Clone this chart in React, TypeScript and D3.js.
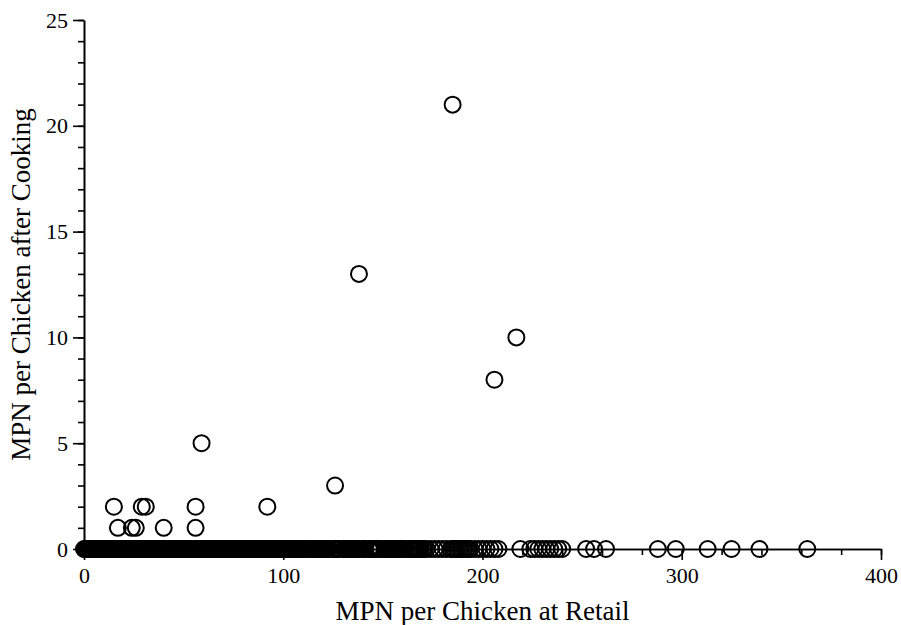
import React, { useEffect, useRef } from "react";
import * as d3 from "d3";

// samples with 0 MPN after cooking (x = MPN at retail)
const retailZero = [
  0, 0.5, 1, 1.5, 2, 2.5, 3, 3.5, 4, 4.5, 5, 5.5, 6, 6.5, 7, 7.5, 8, 8.5, 9, 9.5,
  10, 10.5, 11, 11.5, 12, 12.5, 13, 13.5, 14, 14.5, 15, 15.5, 16, 16.5, 17, 17.5,
  18, 18.5, 19, 19.5, 20, 20.5, 21, 21.5, 22, 22.5, 23, 23.5, 24, 24.5, 25, 25.5,
  26, 26.5, 27, 27.5, 28, 28.5, 29, 29.5, 30, 30.5, 31, 31.5, 32, 32.5, 33, 33.5,
  34, 34.5, 35, 35.5, 36, 36.5, 37, 37.5, 38, 38.5, 39, 39.5, 40, 40.5, 41, 41.5,
  42, 42.5, 43, 43.5, 44, 44.5, 45, 45.5, 46, 46.5, 47, 47.5, 48, 48.5, 49, 49.5,
  50, 50.5, 51, 51.5, 52, 52.5, 53, 53.5, 54, 54.5, 55, 55.5, 56, 56.5, 57, 57.5,
  58, 58.5, 59, 59.5, 60, 60.5, 61, 61.5, 62, 62.5, 63, 63.5, 64, 64.5, 65, 65.5,
  66, 66.5, 67, 67.5, 68, 68.5, 69, 69.5, 70, 70.5, 71, 71.5, 72, 72.5, 73, 73.5,
  74, 74.5, 75, 75.5, 76, 76.5, 77, 77.5, 78, 78.5, 79, 79.5, 80, 80.5, 81, 81.5,
  82, 82.5, 83, 83.5, 84, 84.5, 85, 85.5, 86, 86.5, 87, 87.5, 88, 88.5, 89, 89.5,
  90, 90.5, 91, 91.5, 92, 92.5, 93, 93.5, 94, 94.5, 95, 95.5, 96, 96.5, 97, 97.5,
  98, 98.5, 99, 99.5, 100, 100.5, 101, 101.5, 102, 102.5, 103, 103.5, 104, 104.5,
  105, 105.5, 106, 106.5, 107, 107.5, 108, 108.5, 109, 109.5, 110, 110.5, 111,
  113, 113.5, 114, 114.5, 115, 115.5, 116, 116.5, 117, 117.5, 118, 118.5, 119,
  119.5, 120, 120.5, 121, 121.5, 122, 122.5, 123, 125, 125.5, 126, 126.5, 127,
  127.5, 128, 130, 130.5, 131, 131.5, 132, 132.5, 133, 133.5, 134, 134.5, 135,
  135.5, 136, 136.5, 137, 137.5, 138, 140, 140.5, 141, 143, 143.5, 144, 144.5,
  145, 145.5, 146, 146.5, 147, 147.5, 148, 148.5, 149, 151, 151.5, 152, 152.5,
  153, 153.5, 154, 154.5, 155, 155.5, 156, 156.5, 157, 157.5, 158, 158.5, 159,
  159.5, 160, 160.5, 161, 163, 163.5, 164, 164.5, 165, 165.5, 166, 166.5, 167,
  167.5, 168, 168.5, 169, 170, 171, 172, 174, 176, 178, 180, 182, 184, 185, 186,
  187, 188, 189, 190, 191, 192, 193, 194, 196, 198, 200, 202, 204, 206, 208, 219,
  224, 226, 228, 230, 232, 234, 236, 238, 240, 252, 256, 262, 288, 297, 313, 325,
  339, 363,
];

// samples with detectable MPN after cooking
const retailPos = [15, 17, 24, 26, 29, 31, 40, 56, 56, 59, 92, 126, 138, 185, 206, 217];
const cookedPos = [2, 1, 1, 1, 2, 2, 1, 2, 1, 5, 2, 3, 13, 21, 8, 10];

const xTicks = [0, 100, 200, 300, 400];
const yTicks = [0, 5, 10, 15, 20, 25];

const xTitle = "MPN per Chicken at Retail";
const yTitle = "MPN per Chicken after Cooking";

export default function App() {
  const ref = useRef<SVGSVGElement>(null);

  useEffect(() => {
    const svg = d3.select(ref.current);
    svg.selectAll("*").remove();

    const font = "Liberation Serif, Times New Roman, DejaVu Serif, serif";
    const x = d3.scaleLinear().domain([0, 400]).range([84, 881]);
    const y = d3.scaleLinear().domain([0, 25]).range([549, 20]);

    const points = [
      ...retailZero.map((r) => ({ r, c: 0 })),
      ...retailPos.map((r, i) => ({ r, c: cookedPos[i] })),
    ];

    svg.append("g")
      .selectAll("circle")
      .data(points)
      .join("circle")
      .attr("cx", (d) => x(d.r))
      .attr("cy", (d) => y(d.c))
      .attr("r", 8)
      .attr("fill", "none")
      .attr("stroke", "#000")
      .attr("stroke-width", 2);

    // minor ticks
    svg.append("g")
      .attr("transform", `translate(0,${y(0)})`)
      .call(d3.axisBottom(x).tickValues(d3.range(0, 401, 20)).tickSize(6).tickSizeOuter(0).tickFormat(() => ""));
    svg.append("g")
      .attr("transform", `translate(${x(0)},0)`)
      .call(d3.axisLeft(y).tickValues(d3.range(0, 26, 1)).tickSize(6).tickSizeOuter(0).tickFormat(() => ""));

    // major ticks + labels
    const xa = svg.append("g")
      .attr("transform", `translate(0,${y(0)})`)
      .call(d3.axisBottom(x).tickValues(xTicks).tickSize(11).tickSizeOuter(0).tickPadding(7));
    const ya = svg.append("g")
      .attr("transform", `translate(${x(0)},0)`)
      .call(d3.axisLeft(y).tickValues(yTicks).tickSize(11).tickSizeOuter(0).tickPadding(5));

    svg.selectAll(".domain, .tick line")
      .attr("stroke", "#000")
      .attr("stroke-width", 1.6);
    [xa, ya].forEach((a) => {
      a.attr("font-family", font).attr("font-size", 22);
      a.selectAll("text").attr("fill", "#000");
    });

    svg.append("text")
      .attr("x", (x(0) + x(400)) / 2)
      .attr("y", 620)
      .attr("text-anchor", "middle")
      .attr("font-family", font)
      .attr("font-size", 27)
      .text(xTitle);

    svg.append("text")
      .attr("transform", `translate(30,${(y(0) + y(25)) / 2}) rotate(-90)`)
      .attr("text-anchor", "middle")
      .attr("font-family", font)
      .attr("font-size", 27)
      .text(yTitle);
  }, []);

  return (
    <svg
      ref={ref}
      width={901}
      height={625}
      style={{ position: "absolute", left: 0, top: 0, background: "#fff" }}
    />
  );
}
